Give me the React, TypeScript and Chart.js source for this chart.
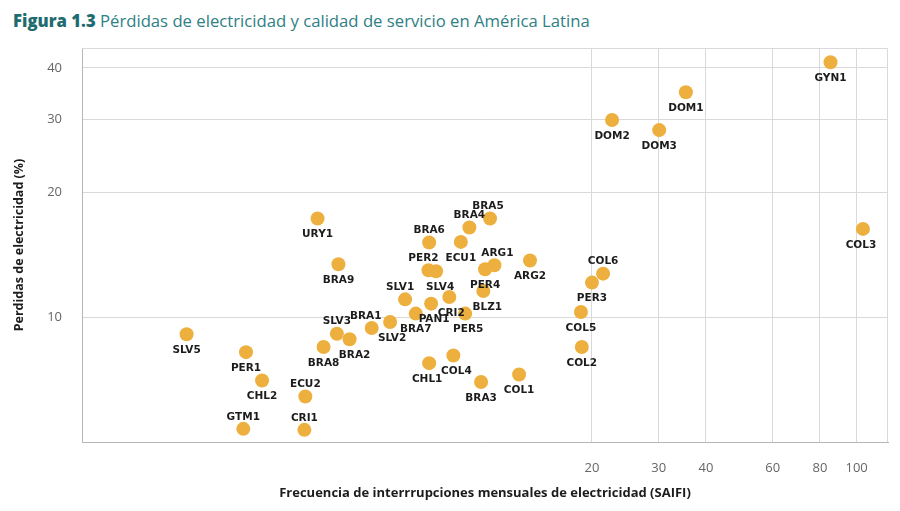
import React, { useEffect, useRef } from "react";
import { Chart, registerables } from "chart.js";

Chart.register(...registerables);

// ---- Data ----
const codes = [
  "URY1", "BRA9", "BRA6", "BRA4", "BRA5", "ECU1", "PER2", "SLV4", "ARG1", "PER4",
  "ARG2", "BLZ1", "SLV1", "CRI2", "PAN1", "PER5", "BRA7", "SLV2", "BRA1", "SLV3",
  "BRA2", "BRA8", "SLV5", "PER1", "CHL2", "ECU2", "GTM1", "CRI1", "CHL1", "COL4",
  "BRA3", "COL1", "GYN1", "DOM1", "DOM2", "DOM3", "COL3", "COL6", "PER3", "COL5",
  "COL2",
];
const saifi = [
  3.77, 4.28, 7.43, 9.49, 10.76, 9.01, 7.40, 7.75, 11.05, 10.44,
  13.72, 10.33, 6.42, 8.40, 7.52, 9.25, 6.85, 5.86, 5.24, 4.24,
  4.58, 3.91, 1.70, 2.44, 2.69, 3.50, 2.40, 3.48, 7.43, 8.61,
  10.19, 12.84, 85.3, 35.4, 22.6, 30.1, 103.9, 21.4, 20.0, 18.7,
  18.8,
];
const losses = [
  17.32, 13.43, 15.16, 16.48, 17.32, 15.21, 12.99, 12.92, 13.36, 13.06,
  13.71, 11.58, 11.05, 11.20, 10.79, 10.21, 10.21, 9.74, 9.42, 9.13,
  8.85, 8.48, 9.10, 8.24, 7.04, 6.44, 5.38, 5.35, 7.75, 8.09,
  6.98, 7.28, 41.28, 34.94, 29.95, 28.32, 16.35, 12.75, 12.13, 10.30,
  8.48,
];
const xTicks = [20, 30, 40, 60, 80, 100];
const yTicks = [10, 20, 30, 40];

const titleBold = "Figura 1.3";
const titleRest = " Pérdidas de electricidad y calidad de servicio en América Latina";
const xTitle = "Frecuencia de interrrupciones mensuales de electricidad (SAIFI)";
const yTitle = "Perdidas de electricidad (%)";

// ---- Label placement (layout only) ----
const LABEL_ABOVE = new Set([
  "BRA6", "BRA4", "BRA5", "PER2", "ARG1", "SLV1", "BRA1", "SLV3", "ECU2", "GTM1", "CRI1", "COL6",
]);
const LABEL_DX: Record<string, number> = {
  PER2: -5, SLV1: -5, BRA1: -6, BRA2: 5, ARG1: 3, BLZ1: 4, CRI2: 2, PAN1: 3,
  PER5: 3, CHL1: -2, COL4: 3, SLV2: 2, COL3: -2, BRA5: -2, SLV4: 4,
};

const POINT_COLOR = "#EDB03E";
const GRID_COLOR = "#d9d9d9";

const labelPlugin = {
  id: "pointLabels",
  afterDatasetsDraw(chart: any) {
    const ctx = chart.ctx;
    const meta = chart.getDatasetMeta(0);
    ctx.save();
    ctx.font = "bold 10.5px 'DejaVu Sans'";
    ctx.fillStyle = "#1c1c1c";
    ctx.textAlign = "center";
    ctx.textBaseline = "middle";
    meta.data.forEach((el: any, i: number) => {
      const name = codes[i];
      const above = LABEL_ABOVE.has(name);
      const dx = LABEL_DX[name] || 0;
      ctx.fillText(name, el.x + dx, el.y + (above ? -12 : 16));
    });
    ctx.restore();
  },
};

const framePlugin = {
  id: "frame",
  beforeDatasetsDraw(chart: any) {
    const { ctx, chartArea } = chart;
    ctx.save();
    ctx.strokeStyle = GRID_COLOR;
    ctx.lineWidth = 1;
    ctx.beginPath();
    ctx.moveTo(chartArea.left, chartArea.top + 0.5);
    ctx.lineTo(chartArea.right - 0.5, chartArea.top + 0.5);
    ctx.lineTo(chartArea.right - 0.5, chartArea.bottom);
    ctx.stroke();
    ctx.restore();
  },
};

export default function App() {
  const canvasRef = useRef<HTMLCanvasElement | null>(null);

  useEffect(() => {
    if (!canvasRef.current) return;
    const data = saifi.map((x, i) => ({ x, y: losses[i] }));
    const chart = new Chart(canvasRef.current, {
      type: "scatter",
      data: {
        datasets: [
          {
            data,
            backgroundColor: POINT_COLOR,
            borderColor: POINT_COLOR,
            pointRadius: 7,
            pointHoverRadius: 7,
            borderWidth: 0,
          },
        ],
      },
      options: {
        animation: false,
        responsive: false,
        maintainAspectRatio: false,
        layout: { padding: { left: 0, right: 12, top: 48, bottom: 0 } },
        plugins: { legend: { display: false }, tooltip: { enabled: false } },
        scales: {
          x: {
            type: "logarithmic",
            min: 0.9,
            max: 121,
            afterBuildTicks: (scale: any) => {
              scale.ticks = xTicks.map((v) => ({ value: v }));
            },
            afterFit: (scale: any) => {
              scale.height = 69;
            },
            grid: { color: GRID_COLOR, drawTicks: false, lineWidth: 1 },
            border: { color: "#b5b5b5", width: 1 },
            ticks: {
              padding: 18,
              color: "#666",
              font: { family: "'Open Sans'", size: 13 },
              autoSkip: false,
              maxRotation: 0,
              callback: (v: any) => String(v),
            },
            title: {
              display: true,
              text: xTitle,
              color: "#1c1c1c",
              font: { family: "'Open Sans'", size: 13, weight: "bold" },
              padding: { top: 0, bottom: 10 },
            },
          },
          y: {
            type: "logarithmic",
            min: 5,
            max: 44.7,
            afterBuildTicks: (scale: any) => {
              scale.ticks = yTicks.map((v) => ({ value: v }));
            },
            afterFit: (scale: any) => {
              scale.width = 82;
            },
            grid: { color: GRID_COLOR, drawTicks: false, lineWidth: 1 },
            border: { color: "#b5b5b5", width: 1 },
            ticks: {
              padding: 20,
              color: "#666",
              font: { family: "'Open Sans'", size: 13 },
              autoSkip: false,
              callback: (v: any) => String(v),
            },
            title: {
              display: true,
              text: yTitle,
              color: "#1c1c1c",
              font: { family: "'Open Sans'", size: 12.5, weight: "bold" },
              padding: { top: 12, bottom: 0 },
            },
          },
        },
      },
      plugins: [framePlugin, labelPlugin],
    });
    return () => chart.destroy();
  }, []);

  return (
    <div
      style={{
        position: "fixed",
        left: 0,
        top: 0,
        width: 900,
        height: 511,
        background: "#ffffff",
        overflow: "hidden",
      }}
    >
      <div
        style={{
          position: "absolute",
          left: 13,
          top: 9,
          fontFamily: "'Open Sans', sans-serif",
          fontSize: 16.7,
          lineHeight: "24px",
          color: "#2f8084",
          whiteSpace: "nowrap",
        }}
      >
        <span style={{ fontWeight: 800, color: "#1f6c70" }}>{titleBold}</span>
        <span>{titleRest}</span>
      </div>
      <canvas
        ref={canvasRef}
        width={900}
        height={511}
        style={{ position: "absolute", left: 0, top: 0, width: 900, height: 511 }}
      />
    </div>
  );
}
